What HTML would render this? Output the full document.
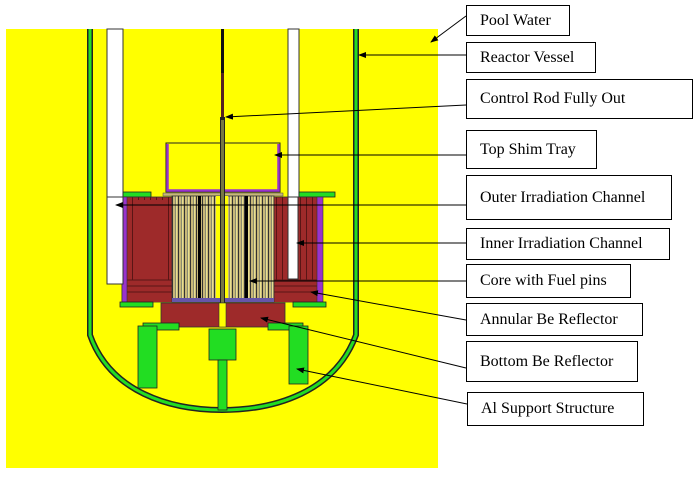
<!DOCTYPE html>
<html><head><meta charset="utf-8"><style>
html,body{margin:0;padding:0;background:#fff;}
.lb{position:absolute;border:1.3px solid #000;background:#fff;box-sizing:border-box;font-family:"Liberation Serif",serif;font-size:16px;color:#000;padding-left:13px;display:flex;align-items:center;}
</style></head><body>
<div style="position:relative;width:700px;height:483px;overflow:hidden;">
<svg width="700" height="483" style="position:absolute;left:0;top:0">
<defs>
<pattern id="fuel" x="172" y="0" width="6" height="10" patternUnits="userSpaceOnUse">
<rect width="6" height="10" fill="#c8b878"/>
<rect x="0" width="1" height="10" fill="#333"/>
<rect x="3" width="1" height="10" fill="#8a8a70"/>
<rect x="4" width="1" height="10" fill="#e8e090"/>
</pattern>
<pattern id="refl" x="0" y="0" width="6" height="10" patternUnits="userSpaceOnUse">
<rect width="6" height="10" fill="#9e2a2a"/>
<rect x="0" width="1" height="10" fill="#5a1515"/>
</pattern>
<marker id="ah" markerWidth="8" markerHeight="6" refX="7" refY="3" orient="auto" markerUnits="userSpaceOnUse"><path d="M0,0 L8,3 L0,6 z" fill="#000"/></marker>
</defs>
<rect x="6" y="29" width="432" height="439" fill="#ffff00"/>
<!-- white channels -->
<rect x="107" y="29" width="16" height="255" fill="#fff" stroke="#333" stroke-width="1"/>
<rect x="288" y="29" width="11" height="250" fill="#fff" stroke="#333" stroke-width="1"/>
<!-- vessel -->
<path d="M90,29 L90,335 C110,392 170,410 222,410 C275,410 335,392 356,335 L356,29" fill="none" stroke="#222" stroke-width="6"/>
<path d="M90,29 L90,335 C110,392 170,410 222,410 C275,410 335,392 356,335 L356,29" fill="none" stroke="#22dd22" stroke-width="3"/>
<!-- top shim tray -->
<rect x="166" y="143" width="114" height="49" fill="none" stroke="#222" stroke-width="1"/>
<path d="M167.5,144 L167.5,190.5 L278.5,190.5 L278.5,144" fill="none" stroke="#9933cc" stroke-width="2.5"/>
<rect x="123" y="192" width="28" height="5" fill="#22dd22" stroke="#222" stroke-width="0.8"/>
<rect x="299" y="192" width="36" height="5" fill="#22dd22" stroke="#222" stroke-width="0.8"/>
<rect x="163" y="193" width="120" height="3" fill="#c8b878" stroke="#444" stroke-width="0.5"/>
<!-- outer reflector -->
<rect x="122" y="197" width="200" height="105" fill="url(#refl)" stroke="#333" stroke-width="0.8"/>
<rect x="138" y="200" width="30" height="80" fill="#9e2a2a"/>
<rect x="127" y="280" width="46" height="22" fill="#9e2a2a"/>
<rect x="274" y="280" width="44" height="22" fill="#9e2a2a"/>
<g stroke="#5a1515" stroke-width="1"><line x1="127" y1="280" x2="172" y2="280"/><line x1="127" y1="286" x2="172" y2="286"/><line x1="127" y1="292" x2="172" y2="292"/><line x1="274" y1="280" x2="318" y2="280"/><line x1="274" y1="286" x2="318" y2="286"/><line x1="274" y1="292" x2="318" y2="292"/></g>
<rect x="122" y="197" width="5" height="105" fill="#9933cc" stroke="#333" stroke-width="0.6"/>
<rect x="317" y="197" width="6" height="105" fill="#9933cc" stroke="#333" stroke-width="0.6"/>
<rect x="107" y="197" width="16" height="87" fill="#fff" stroke="#333" stroke-width="1"/>
<rect x="288" y="197" width="10" height="82" fill="#fff" stroke="#333" stroke-width="1"/>
<!-- core -->
<rect x="172" y="196" width="102" height="106" fill="url(#fuel)" stroke="#333" stroke-width="0.8"/>
<rect x="198" y="196" width="3" height="106" fill="#000"/>
<rect x="245" y="196" width="3" height="106" fill="#000"/>
<rect x="216" y="196" width="12" height="106" fill="#ffff00"/>
<rect x="172" y="298" width="102" height="4" fill="#6655aa"/>
<!-- control rod -->
<rect x="221" y="29" width="3" height="44" fill="#111"/>
<rect x="221" y="73" width="3" height="44" fill="#552222"/>
<rect x="220" y="117" width="5" height="190" fill="#222"/>
<rect x="221" y="120" width="3" height="185" fill="#777744"/>
<!-- lower plates -->
<rect x="120" y="302" width="33" height="5" fill="#22dd22" stroke="#222" stroke-width="0.8"/>
<rect x="293" y="302" width="33" height="5" fill="#22dd22" stroke="#222" stroke-width="0.8"/>
<!-- bottom reflector -->
<rect x="161" y="303" width="124" height="24" fill="#9e2a2a" stroke="#333" stroke-width="0.8"/>
<rect x="219" y="303" width="7" height="24" fill="#ffff00" stroke="#333" stroke-width="0.6"/>
<!-- supports -->
<rect x="143" y="323" width="36" height="7" fill="#22dd22" stroke="#222" stroke-width="0.8"/>
<rect x="268" y="323" width="35" height="7" fill="#22dd22" stroke="#222" stroke-width="0.8"/>
<rect x="138" y="326" width="19" height="62" fill="#22dd22" stroke="#222" stroke-width="0.8"/>
<rect x="289" y="326" width="19" height="58" fill="#22dd22" stroke="#222" stroke-width="0.8"/>
<rect x="209" y="329" width="27" height="31" fill="#22dd22" stroke="#222" stroke-width="0.8"/>
<rect x="218" y="360" width="9" height="50" fill="#22dd22" stroke="#222" stroke-width="0.8"/>
<!-- leader lines -->
<g stroke="#000" stroke-width="1" marker-end="url(#ah)">
<line x1="466" y1="16" x2="431" y2="42"/>
<line x1="466" y1="55" x2="359" y2="55"/>
<line x1="466" y1="105" x2="226" y2="117"/>
<line x1="466" y1="155" x2="275" y2="155"/>
<line x1="466" y1="205" x2="116" y2="205"/>
<line x1="466" y1="243" x2="297" y2="243"/>
<line x1="466" y1="281" x2="250" y2="281"/>
<line x1="466" y1="320" x2="311" y2="292"/>
<line x1="466" y1="368" x2="261" y2="318"/>
<line x1="467" y1="404" x2="297" y2="369"/>
</g>
</svg>
<div class="lb" style="left:466px;top:5px;width:104px;height:31px;">Pool Water</div>
<div class="lb" style="left:466px;top:42px;width:130px;height:31px;">Reactor Vessel</div>
<div class="lb" style="left:466px;top:79px;width:227px;height:40px;">Control Rod Fully Out</div>
<div class="lb" style="left:466px;top:130px;width:131px;height:39px;">Top Shim Tray</div>
<div class="lb" style="left:466px;top:175px;width:206px;height:45px;">Outer Irradiation Channel</div>
<div class="lb" style="left:466px;top:228px;width:204px;height:32px;">Inner Irradiation Channel</div>
<div class="lb" style="left:466px;top:264px;width:165px;height:34px;">Core with Fuel pins</div>
<div class="lb" style="left:466px;top:303px;width:177px;height:33px;">Annular Be Reflector</div>
<div class="lb" style="left:466px;top:341px;width:172px;height:41px;">Bottom Be Reflector</div>
<div class="lb" style="left:467px;top:392px;width:177px;height:34px;">Al Support Structure</div>
</div>
</body></html>
